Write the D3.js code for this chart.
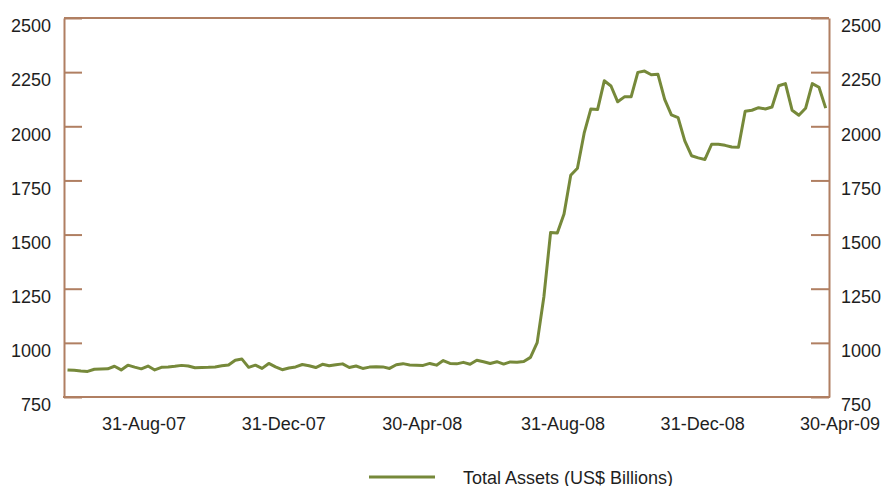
<!DOCTYPE html>
<html>
<head>
<meta charset="utf-8">
<script src="https://cdn.jsdelivr.net/npm/d3@7"></script>
<style>
  body { margin: 0; background: #fff; }
  svg text { font-family: "Liberation Sans", Arial, sans-serif; font-size: 18px; fill: #1e1e1e; }
</style>
</head>
<body>
<div id="chart"></div>
<script>
// total assets, US$ billions, one value per reporting point (left to right)
var assets = [
  875, 873, 870, 868, 878, 879, 880, 892, 875, 897,
  888, 880, 893, 875, 887, 889, 892, 896, 893, 885,
  886, 887, 889, 894, 898, 920, 925, 887, 897, 882,
  905, 889, 876, 884, 889, 900, 894, 886, 901, 894,
  899, 903, 886, 893, 882, 888, 890, 889, 882, 899,
  904, 898, 897, 896, 905, 897, 918, 905, 903, 910,
  901, 920, 913, 905, 913, 902, 912, 910, 914, 933,
  1001, 1213, 1510, 1507, 1595, 1774, 1806, 1968, 2080, 2077,
  2210, 2186, 2113, 2136, 2136, 2249, 2255, 2238, 2240, 2124,
  2053, 2040, 1933, 1864, 1854, 1847, 1917, 1917, 1912, 1904,
  1903, 2069, 2074, 2086, 2080, 2089, 2187, 2197, 2074, 2051,
  2083, 2197, 2180, 2084
];

var xLabels = ["31-Aug-07", "31-Dec-07", "30-Apr-08", "31-Aug-08", "31-Dec-08", "30-Apr-09"];
var yTicks = [750, 1000, 1250, 1500, 1750, 2000, 2250, 2500];
var seriesName = "Total Assets (US$ Billions)";

var width = 883;
var height = 486;
var plotLeft = 64, plotRight = 829, plotTop = 18, plotBottom = 397;
var axisColor = "#b07f62";
var lineColor = "#76893a";

var parseDate = d3.timeParse("%d-%b-%y");
var formatDate = d3.timeFormat("%d-%b-%y");
var labelDates = xLabels.map(parseDate);

var svg = d3.select("#chart")
  .append("svg")
  .attr("width", width)
  .attr("height", height);

// scales
var x = d3.scaleLinear()
  .domain([0, assets.length - 1])
  .range([plotLeft + 3.5, plotRight - 3.3]);

var xTime = d3.scaleTime()
  .domain(d3.extent(labelDates))
  .range([143.5, 839.5]);

var y = d3.scaleLinear()
  .domain([750, 2500])
  .range([plotBottom, plotTop]);

// left axis, ticks pointing inward
var yLeft = svg.append("g")
  .attr("transform", "translate(" + plotLeft + ",0)")
  .call(d3.axisLeft(y).tickValues(yTicks).tickSizeInner(-18).tickSizeOuter(0).tickPadding(13).tickFormat(d3.format("d")));

// right axis
var yRight = svg.append("g")
  .attr("transform", "translate(" + plotRight + ",0)")
  .call(d3.axisRight(y).tickValues(yTicks).tickSizeInner(-18).tickSizeOuter(0).tickPadding(12).tickFormat(d3.format("d")));

[yLeft, yRight].forEach(function(g) {
  g.selectAll("path, line").attr("stroke", axisColor).attr("stroke-width", 2);
  g.selectAll("text")
    .attr("fill", null)
    .attr("y", 8);
  g.attr("font-size", null).attr("font-family", null);
});

// top and bottom edges of the frame
svg.append("line")
  .attr("x1", plotLeft).attr("x2", plotRight)
  .attr("y1", plotTop).attr("y2", plotTop)
  .attr("stroke", axisColor).attr("stroke-width", 2);

svg.append("line")
  .attr("x1", plotLeft - 1).attr("x2", plotRight + 1)
  .attr("y1", plotBottom).attr("y2", plotBottom)
  .attr("stroke", axisColor).attr("stroke-width", 2);

// date labels under the plot
var xAxis = svg.append("g")
  .attr("transform", "translate(0," + plotBottom + ")")
  .call(d3.axisBottom(xTime).tickValues(labelDates).tickSize(0).tickPadding(33).tickFormat(formatDate));

xAxis.select(".domain").remove();
xAxis.attr("font-size", null).attr("font-family", null);
xAxis.selectAll("text").attr("fill", null).attr("dy", null);

// the series
var line = d3.line()
  .x(function(d, i) { return x(i); })
  .y(function(d) { return y(d); });

svg.append("path")
  .datum(assets)
  .attr("fill", "none")
  .attr("stroke", lineColor)
  .attr("stroke-width", 3)
  .attr("stroke-linejoin", "round")
  .attr("d", line);

// legend
var legend = svg.append("g")
  .attr("transform", "translate(369,477)");

legend.append("line")
  .attr("x1", 0).attr("x2", 66)
  .attr("y1", 0).attr("y2", 0)
  .attr("stroke", lineColor)
  .attr("stroke-width", 3);

legend.append("text")
  .attr("x", 94)
  .attr("y", 7)
  .text(seriesName);
</script>
</body>
</html>
